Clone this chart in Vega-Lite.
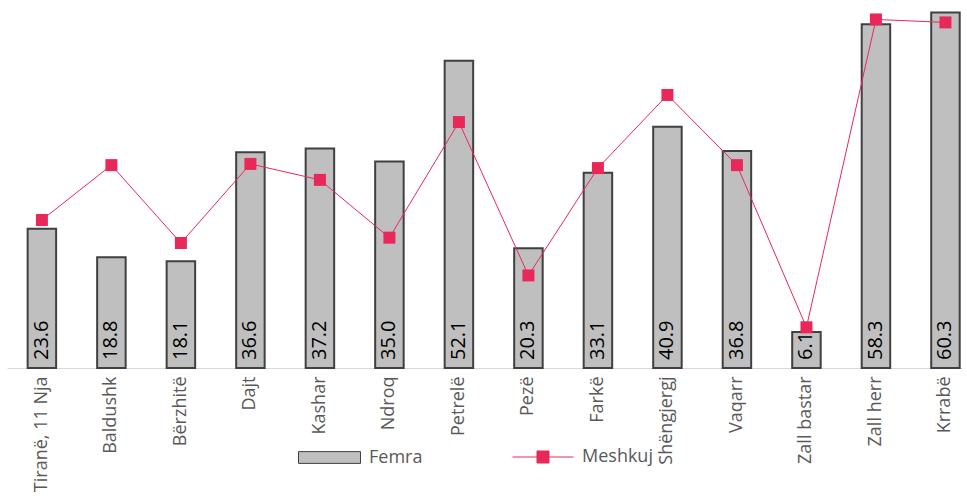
{
  "$schema": "https://vega.github.io/schema/vega-lite/v6.json",
  "width": 955,
  "height": 368,
  "autosize": {"type": "none"},
  "padding": {"left": 7, "top": 0, "right": 5, "bottom": 130},
  "background": "white",
  "config": {"view": {"stroke": null}, "font": "Open Sans"},
  "data": {
    "values": [
      {"njesia": "Tiranë, 11 Nja", "Femra": 23.6, "Meshkuj": 25.1},
      {"njesia": "Baldushk", "Femra": 18.8, "Meshkuj": 34.4},
      {"njesia": "Bërzhitë", "Femra": 18.1, "Meshkuj": 21.2},
      {"njesia": "Dajt", "Femra": 36.6, "Meshkuj": 34.6},
      {"njesia": "Kashar", "Femra": 37.2, "Meshkuj": 31.9},
      {"njesia": "Ndroq", "Femra": 35.0, "Meshkuj": 22.1},
      {"njesia": "Petrelë", "Femra": 52.1, "Meshkuj": 41.7},
      {"njesia": "Pezë", "Femra": 20.3, "Meshkuj": 15.7},
      {"njesia": "Farkë", "Femra": 33.1, "Meshkuj": 33.9},
      {"njesia": "Shëngjergj", "Femra": 40.9, "Meshkuj": 46.3},
      {"njesia": "Vaqarr", "Femra": 36.8, "Meshkuj": 34.4},
      {"njesia": "Zall bastar", "Femra": 6.1, "Meshkuj": 6.9},
      {"njesia": "Zall herr", "Femra": 58.3, "Meshkuj": 59.1},
      {"njesia": "Krrabë", "Femra": 60.3, "Meshkuj": 58.6}
    ]
  },
  "encoding": {
    "x": {
      "field": "njesia",
      "type": "nominal",
      "sort": null,
      "scale": {"paddingInner": 0.59, "paddingOuter": 0.165, "align": 0.9},
      "axis": {
        "title": null,
        "labelAngle": -90,
        "labelAlign": "right",
        "labelBaseline": "middle",
        "labelPadding": 8,
        "labelFont": "Open Sans",
        "labelFontSize": 18,
        "labelColor": "#595959",
        "labelLimit": 300,
        "labelOverlap": false,
        "ticks": false,
        "domainColor": "#d9d9d9",
        "domainWidth": 1
      }
    }
  },
  "layer": [
    {
      "mark": {"type": "bar", "stroke": "#404040", "strokeWidth": 2},
      "encoding": {
        "y": {
          "field": "Femra",
          "type": "quantitative",
          "scale": {"domain": [0, 62.4], "nice": false},
          "axis": null
        },
        "fill": {
          "datum": "Femra",
          "scale": {"range": ["#bfbfbf"]},
          "legend": {
            "title": null,
            "orient": "none",
            "legendX": 291,
            "legendY": 426,
            "padding": 0,
            "symbolType": "M-1,-0.19H1V0.19H-1Z",
            "symbolSize": 3844,
            "symbolStrokeColor": "#404040",
            "symbolStrokeWidth": 1,
            "labelFont": "Open Sans",
            "labelFontSize": 18,
            "labelColor": "#595959",
            "labelOffset": 8
          }
        }
      }
    },
    {
      "mark": {"type": "text", "angle": 270, "align": "left", "baseline": "middle", "dx": 8, "font": "Open Sans", "fontSize": 20, "color": "#000000"},
      "encoding": {
        "y": {"datum": 0, "type": "quantitative"},
        "text": {"field": "Femra", "type": "quantitative", "format": ".1f"}
      }
    },
    {
      "mark": {"type": "line", "strokeWidth": 1},
      "encoding": {
        "y": {"field": "Meshkuj", "type": "quantitative"},
        "stroke": {
          "datum": "Meshkuj",
          "scale": {"range": ["#e9285a"]},
          "legend": {
            "title": null,
            "orient": "none",
            "legendX": 505,
            "legendY": 426,
            "padding": 0,
            "symbolType": "M-1,0H1M-0.197,-0.197H0.197V0.197H-0.197Z",
            "symbolSize": 3721,
            "symbolStrokeWidth": 1,
            "labelFont": "Open Sans",
            "labelFontSize": 18,
            "labelColor": "#595959",
            "labelOffset": 8,
            "encode": {"symbols": {"update": {"fill": {"value": "#e9285a"}, "stroke": {"value": "#e9285a"}}}}
          }
        }
      }
    },
    {
      "mark": {"type": "point", "shape": "square", "size": 144, "filled": true, "color": "#e9285a", "opacity": 1},
      "encoding": {
        "y": {"field": "Meshkuj", "type": "quantitative"}
      }
    }
  ]
}
